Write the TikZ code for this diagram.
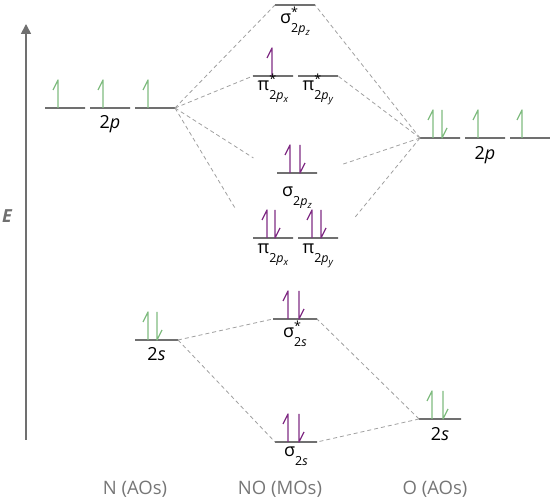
\documentclass[tikz,border=0pt]{standalone}
\usepackage{fontspec}
\setmainfont{Open Sans}
\usetikzlibrary{arrows.meta,positioning}
\definecolor{lvlgray}{RGB}{112,112,112}
\definecolor{dashgray}{RGB}{160,160,160}
\definecolor{aogreen}{RGB}{128,188,128}
\definecolor{mopurple}{RGB}{128,44,132}
\definecolor{capgray}{RGB}{118,118,118}
\newcommand{\subsz}{\fontsize{12.5}{14}\selectfont}
\newcommand{\morb}[3]{#1\rlap{\raisebox{0.8ex}{\subsz #2}}\raisebox{-0.9ex}{\subsz #3}}
\newcommand{\tpx}[1]{2\textit{p}\raisebox{-0.35ex}{\fontsize{9.5}{10}\selectfont\textit{#1}}}
\begin{document}
\begin{tikzpicture}[x=1pt,y=-1pt,
    font=\fontsize{18}{21}\selectfont,
    level/.style={draw=lvlgray,line width=1.7pt,minimum width=40pt,minimum height=0pt,inner sep=0pt,outer sep=0pt},
    link/.style={draw=dashgray,line width=0.8pt,dash pattern=on 4pt off 3pt},
    lab/.style={inner sep=0pt,anchor=base},
    caption/.style={text=capgray,font=\fontsize{18.5}{21}\selectfont,anchor=base},
    spinup/.pic={\draw[line width=1.3pt,line join=round] (0,0) -- (0,-28) -- (-5,-18);},
    spindown/.pic={\draw[line width=1.3pt,line join=round] (0,-28) -- (0,0) -- (5,-10);}]
    \useasboundingbox (0,0) rectangle (550,502);
    \draw[draw=lvlgray,line width=1.7pt,-{Triangle[width=10pt,length=10pt]}] (26,440) -- (26,24);
    \node[text=lvlgray,font=\fontsize{18}{21}\selectfont\bfseries\itshape] (elab) at (7,216) {E};
    % nitrogen
    \node[level] (nA) at (65,108) {};
    \node[level] (nB) at (110,108) {};
    \node[level] (nC) at (155,108) {};
    \node[level,minimum width=43pt] (n2s) at (156.5,340) {};
    \pic[aogreen] at (58,108) {spinup};
    \pic[aogreen] at (103,108) {spinup};
    \pic[aogreen] at (148,108) {spinup};
    \pic[aogreen] at (148,340) {spinup};
    \pic[aogreen] at (157,340) {spindown};
    \node[lab] (n2plab) at ([yshift=-21pt]nB.center) {2\textit{p}};
    \node[lab] (n2slab) at ([yshift=-21pt]n2s.center) {2\textit{s}};
    % molecular orbitals
    \node[level] (s2pzs) at (295,5) {};
    \node[level] (p2xs) at (273,76) {};
    \node[level] (p2ys) at (318,76) {};
    \node[level] (s2pz) at (297,173) {};
    \node[level] (p2x) at (273,238) {};
    \node[level] (p2y) at (318,238) {};
    \node[level,minimum width=44pt] (s2ss) at (295,319) {};
    \node[level,minimum width=42pt] (s2s) at (296,442) {};
    \pic[mopurple] at (272,76) {spinup};
    \pic[mopurple] at (290,173) {spinup};
    \pic[mopurple] at (300,173) {spindown};
    \pic[mopurple] at (267,238) {spinup};
    \pic[mopurple] at (275,238) {spindown};
    \pic[mopurple] at (312,238) {spinup};
    \pic[mopurple] at (321,238) {spindown};
    \pic[mopurple] at (288,319) {spinup};
    \pic[mopurple] at (299,319) {spindown};
    \pic[mopurple] at (288,442) {spinup};
    \pic[mopurple] at (299,442) {spindown};
    \node[lab] (s2pzslab) at ([yshift=-19pt]s2pzs.center) {\morb{σ}{*}{\tpx{z}}};
    \node[lab] (p2xslab) at ([yshift=-15pt]p2xs.center) {\morb{π}{*}{\tpx{x}}};
    \node[lab] (p2yslab) at ([yshift=-15pt]p2ys.center) {\morb{π}{*}{\tpx{y}}};
    \node[lab] (s2pzlab) at ([yshift=-24pt]s2pz.center) {\morb{σ}{}{\tpx{z}}};
    \node[lab] (p2xlab) at ([yshift=-16pt]p2x.center) {\morb{π}{}{\tpx{x}}};
    \node[lab] (p2ylab) at ([yshift=-16pt]p2y.center) {\morb{π}{}{\tpx{y}}};
    \node[lab] (s2sslab) at ([yshift=-19pt]s2ss.center) {\morb{σ}{*}{2\textit{s}}};
    \node[lab] (s2slab) at ([yshift=-15pt]s2s.center) {\morb{σ}{}{2\textit{s}}};
    % oxygen
    \node[level] (oA) at (440,138) {};
    \node[level] (oB) at (485,138) {};
    \node[level] (oC) at (530,138) {};
    \node[level,minimum width=42pt] (o2s) at (440,419) {};
    \pic[aogreen] at (433,138) {spinup};
    \pic[aogreen] at (442,138) {spindown};
    \pic[aogreen] at (478,138) {spinup};
    \pic[aogreen] at (522,138) {spinup};
    \pic[aogreen] at (432,419) {spinup};
    \pic[aogreen] at (443,419) {spindown};
    \node[lab] (o2plab) at ([yshift=-22pt]oB.center) {2\textit{p}};
    \node[lab] (o2slab) at ([yshift=-22pt]o2s.center) {2\textit{s}};
    % correlation lines
    \draw[link] (nC.east) -- (s2pzs.west);
    \draw[link] (nC.east) -- (p2xs.west);
    \draw[link,shorten >=28pt] (nC.east) -- (s2pz.west);
    \draw[link,shorten >=35pt] (nC.east) -- (p2x.west);
    \draw[link] (oA.west) -- (s2pzs.east);
    \draw[link] (oA.west) -- (p2ys.east);
    \draw[link,shorten >=26pt] (oA.west) -- (s2pz.east);
    \draw[link,shorten >=25pt] (oA.west) -- (p2y.east);
    \draw[link] (n2s.east) -- (s2ss.west);
    \draw[link] (n2s.east) -- (s2s.west);
    \draw[link] (o2s.west) -- (s2ss.east);
    \draw[link] (o2s.west) -- (s2s.east);
    % captions
    \node[caption] (ncap) at (135,495) {N (AOs)};
    \node[caption] (nocap) at (280,495) {NO (MOs)};
    \node[caption] (ocap) at (435,495) {O (AOs)};
\end{tikzpicture}
\end{document}
